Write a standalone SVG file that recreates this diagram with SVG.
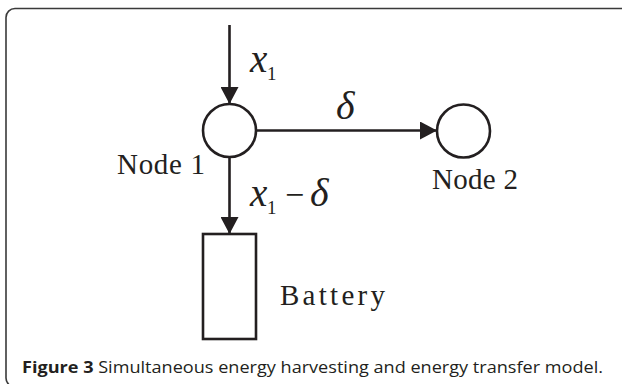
<svg xmlns="http://www.w3.org/2000/svg" width="624" height="384" viewBox="0 0 624 384">
<style>
.ln{stroke:#231f20;stroke-width:2.6;fill:none}
.nd{stroke:#231f20;stroke-width:2.6;fill:#fff}
.lbl{font-family:"Liberation Serif",serif;font-size:29px;fill:#231f20}
.math{font-family:"Liberation Serif",serif;font-style:italic;fill:#231f20}
.sub{font-family:"Liberation Serif",serif;font-style:normal;font-size:19px;fill:#231f20}
.cap{font-family:"Open Sans","Liberation Sans",sans-serif;font-size:16.5px;fill:#231f20}
</style>
<defs>
<marker id="ah" markerUnits="userSpaceOnUse" markerWidth="18" markerHeight="18" viewBox="0 0 18 18" refX="17" refY="9" orient="auto">
<path d="M0,0 L17,9 L0,18 Z" fill="#231f20"/>
</marker>
</defs>
<path d="M622,8.5 H15 A9,9 0 0 0 6,17.5 V378 A9,9 0 0 0 15,387" fill="none" stroke="#3a3a3a" stroke-width="1.6"/>
<g id="connectors">
<line class="ln" x1="229.5" y1="25" x2="229.5" y2="104" marker-end="url(#ah)"/>
<line class="ln" x1="256" y1="130.5" x2="437" y2="130.5" marker-end="url(#ah)"/>
<line class="ln" x1="229.5" y1="157" x2="229.5" y2="234" marker-end="url(#ah)"/>
<text class="math" x="250" y="72" font-size="39">x</text>
<text class="sub" x="267" y="80">1</text>
<text class="math" x="336" y="119" font-size="40">δ</text>
<text class="math" x="250" y="206" font-size="39">x</text>
<text class="sub" x="267" y="214">1</text>
<text class="sub" x="285" y="206" style="font-size:34px">−</text>
<text class="math" x="310" y="206" font-size="40">δ</text>
</g>
<g id="node1">
<circle class="nd" cx="229.5" cy="130.5" r="26.5"/>
<text class="lbl" x="117" y="174" textLength="88" lengthAdjust="spacing">Node 1</text>
</g>
<g id="node2">
<circle class="nd" cx="463.5" cy="131" r="26.5"/>
<text class="lbl" x="432" y="189" textLength="86" lengthAdjust="spacing">Node 2</text>
</g>
<g id="battery">
<rect class="nd" x="203" y="234" width="53" height="105"/>
<text class="lbl" x="280" y="305" textLength="105" lengthAdjust="spacing">Battery</text>
</g>
<text class="cap" x="22" y="373" textLength="581" lengthAdjust="spacingAndGlyphs"><tspan font-weight="bold">Figure 3</tspan> Simultaneous energy harvesting and energy transfer model.</text>
</svg>
